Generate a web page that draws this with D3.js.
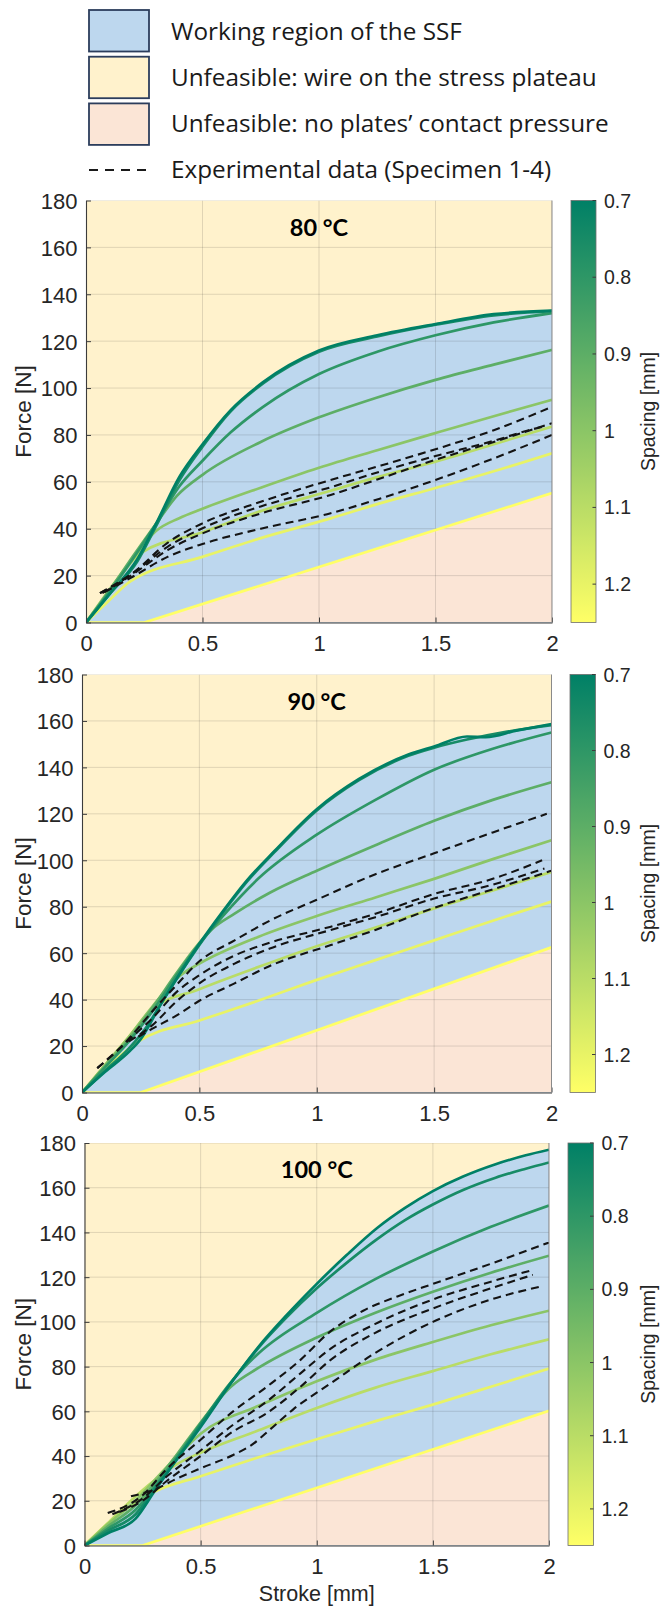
<!DOCTYPE html>
<html>
<head>
<meta charset="utf-8">
<script src="https://cdn.jsdelivr.net/npm/d3@7"></script>
<style>
  body { margin: 0; background: #ffffff; }
  svg { display: block; }
</style>
</head>
<body>
<svg id="fig" width="661" height="1607"></svg>
<script>
// ---- data ---------------------------------------------------------------
const temperatures = ["80 °C", "90 °C", "100 °C"];
const spacing = [0.7, 0.75, 0.8, 0.9, 1.0, 1.1, 1.2, 1.25];   // mm, one model curve each
const strokeTicks = [0, 0.5, 1, 1.5, 2];
const forceTicks = [0, 20, 40, 60, 80, 100, 120, 140, 160, 180];
const spacingTicks = [0.7, 0.8, 0.9, 1, 1.1, 1.2];
const legendLabels = [
  "Working region of the SSF",
  "Unfeasible: wire on the stress plateau",
  "Unfeasible: no plates\u2019 contact pressure",
  "Experimental data (Specimen 1-4)"
];

// model force–stroke curves [stroke mm, force N], ordered as `spacing`
const model80 = [
  [[0,0],[0.1,12],[0.22,27],[0.3,42],[0.4,62],[0.5,76],[0.62,90.5],[0.76,102.5],[1,116],[1.25,122.5],[1.5,127.3],[1.75,131.5],[2,133]],
  [[0,0],[0.1,12],[0.22,26],[0.3,41],[0.4,60.5],[0.5,75],[0.62,90],[0.76,102],[1,115.5],[1.25,122],[1.5,127],[1.75,131],[2,132.8]],
  [[0,0],[0.1,13],[0.2,27],[0.3,42],[0.4,58],[0.5,69],[0.62,81],[0.76,92],[1,106],[1.25,115.5],[1.5,122.5],[1.75,128],[2,132]],
  [[0,0],[0.1,13.5],[0.2,28],[0.3,42],[0.39,54],[0.5,63],[0.75,77],[1,87.5],[1.25,96],[1.5,103.5],[1.75,110],[2,116.3]],
  [[0,0],[0.1,14],[0.2,27],[0.3,39],[0.4,44.5],[0.5,48.5],[0.75,57.5],[1,66],[1.25,73.5],[1.5,80.8],[1.75,88],[2,95]],
  [[0,0],[0.1,13],[0.233,29.5],[0.5,38.5],[0.75,47.5],[1.05,56.2],[1.25,62],[1.5,68.6],[1.75,76],[2,83.6]],
  [[0,0],[0.1,9.5],[0.19,17.5],[0.5,28],[0.75,36],[1.05,44.4],[1.25,50.5],[1.5,57.4],[1.75,64.5],[2,72.2]],
  [[0,0],[0.25,0],[2,55.2]]
];
const model90 = [
  [[0,0],[0.1,9],[0.2,17.5],[0.25,23],[0.33,37],[0.4,48.5],[0.5,64],[0.6,78],[0.7,91],[0.82,104],[1,122],[1.18,135],[1.39,145.5],[1.5,149],[1.64,153.3],[1.72,153],[1.85,155.8],[2,158.6]],
  [[0,0],[0.1,9.5],[0.2,19],[0.28,29],[0.35,40.5],[0.5,63.5],[0.6,77.5],[0.7,90.5],[0.82,103.5],[1,121.5],[1.18,134.5],[1.39,145],[1.5,148.5],[1.64,152],[1.8,155.2],[2,158.2]],
  [[0,0],[0.1,11],[0.2,22],[0.3,35],[0.4,50],[0.5,64],[0.6,76],[0.75,92],[1,111],[1.25,126],[1.5,139],[1.75,148],[2,155]],
  [[0,0],[0.1,11.5],[0.2,23],[0.3,36.5],[0.4,51],[0.48,62],[0.55,70],[0.65,77],[0.8,86],[1,95.5],[1.25,106.5],[1.5,117],[1.75,126],[2,133.6]],
  [[0,0],[0.1,12],[0.2,24],[0.3,37],[0.42,50.5],[0.5,55.5],[0.75,67],[1,76],[1.25,84],[1.5,92],[1.75,100.5],[2,108.6]],
  [[0,0],[0.1,12],[0.2,24],[0.3,36],[0.5,44.5],[0.75,54],[1,63],[1.25,71],[1.5,79.3],[1.75,87],[2,95]],
  [[0,0],[0.12,12],[0.24,22],[0.5,31],[0.75,39.5],[1,48.5],[1.25,57],[1.5,65.5],[1.75,74],[2,82.2]],
  [[0,0],[0.25,0],[2,62.5]]
];
const model100 = [
  [[0,0],[0.1,5.5],[0.22,12],[0.3,24],[0.36,33],[0.5,53],[0.64,74],[0.75,89],[0.87,103],[1,117],[1.13,130],[1.26,142],[1.38,151],[1.5,158.5],[1.63,165],[1.77,170.5],[1.9,174.5],[2,177]],
  [[0,0],[0.1,6.5],[0.22,14],[0.3,25],[0.4,39],[0.5,54],[0.64,74],[0.75,88.5],[0.87,102],[1,115],[1.13,126.5],[1.26,137],[1.38,145.5],[1.5,152.5],[1.63,159],[1.77,164.5],[1.9,168.5],[2,171.3]],
  [[0,0],[0.1,7.5],[0.22,16],[0.3,26],[0.4,40],[0.5,54.5],[0.63,73],[0.75,86],[1,104],[1.25,119],[1.5,131.5],[1.75,142.5],[2,152]],
  [[0,0],[0.1,8.5],[0.22,18],[0.3,27.5],[0.4,41],[0.5,55],[0.63,71],[0.75,79.5],[1,93],[1.25,104],[1.5,113.5],[1.75,122],[2,129.6]],
  [[0,0],[0.1,9.5],[0.22,20],[0.3,29],[0.4,40],[0.5,50],[0.75,62.5],[1,73.5],[1.25,83],[1.5,91],[1.75,98.5],[2,105]],
  [[0,0],[0.1,10],[0.2,20],[0.3,29],[0.4,36.5],[0.5,41.5],[0.75,51.5],[1,61.5],[1.25,70.5],[1.5,78],[1.75,85.5],[2,92.2]],
  [[0,0],[0.15,14],[0.3,24],[0.5,31],[0.75,39.5],[1,47.5],[1.25,55.5],[1.5,63],[1.75,71],[2,79.1]],
  [[0,0],[0.25,0],[2,60.2]]
];

// measured curves, specimens 1-4
const exp80 = [
  [[0.06,12.5],[0.2,21],[0.35,34],[0.5,42.3],[0.75,51.5],[1.05,60.8],[1.25,66.5],[1.5,73.9],[1.75,82],[2,92]],
  [[0.06,12.5],[0.2,21],[0.35,32.3],[0.5,40.2],[0.75,49.5],[1.05,57.7],[1.25,64],[1.5,71],[1.75,77.5],[1.9,82],[1.96,83.5]],
  [[0.07,12.5],[0.2,20.5],[0.35,30.9],[0.5,38],[0.75,46.5],[1.05,54.4],[1.25,61],[1.5,69.4],[1.75,77],[2,85]],
  [[0.08,13],[0.2,19.5],[0.35,28],[0.5,33.5],[0.75,40],[1.05,46.6],[1.25,52.5],[1.5,60.8],[1.75,70],[2,80]]
];
const exp90 = [
  [[0.065,10.5],[0.15,18],[0.22,25.5],[0.3,35],[0.4,46],[0.5,56.5],[0.65,65.5],[0.8,74],[1,83],[1.25,94],[1.5,103],[1.75,112],[1.98,120]],
  [[0.065,10.5],[0.15,18],[0.22,24.5],[0.3,32],[0.4,43],[0.5,50.5],[0.65,59],[0.8,64.5],[1.06,71.4],[1.25,77],[1.5,85.5],[1.75,92],[1.96,100]],
  [[0.2,22],[0.3,29],[0.4,39],[0.5,47],[0.65,55.5],[0.8,62],[1.06,70],[1.25,75.5],[1.5,83.5],[1.75,89.5],[1.97,96.5]],
  [[0.24,24],[0.3,27.5],[0.4,33],[0.5,39.5],[0.65,47],[0.8,54.5],[1.06,63.5],[1.25,70],[1.5,79.5],[1.75,87.5],[2,95.5]]
];
const exp100 = [
  [[0.1,14.5],[0.25,22.5],[0.35,33.8],[0.5,47.3],[0.64,60],[0.785,71],[0.93,83],[1.05,95],[1.2,105],[1.35,111.5],[1.5,117],[1.75,126],[2,135.5]],
  [[0.12,14],[0.25,21],[0.35,30.5],[0.5,42.5],[0.64,54],[0.785,64.4],[0.93,77],[1.06,88],[1.25,99],[1.5,110],[1.75,118],[1.93,123.2]],
  [[0.15,15],[0.25,20],[0.35,28.5],[0.5,40],[0.64,51],[0.785,59.2],[0.93,71],[1.06,83],[1.25,95],[1.5,106],[1.75,115],[1.93,121]],
  [[0.2,22],[0.3,25],[0.4,30],[0.5,34.5],[0.64,40.5],[0.72,45],[0.8,52],[0.9,61],[1.06,72.5],[1.25,86],[1.5,100],[1.75,110],[1.96,115.7]]
];

const modelSets = [model80, model90, model100];
const expSets = [exp80, exp90, exp100];

// ---- layout & style -----------------------------------------------------
const panels = [
  { left: 86,   right: 552,   top: 200.5, bottom: 622.5,  cbLeft: 571, cbRight: 596 },
  { left: 82,   right: 551.5, top: 674.5, bottom: 1092.5, cbLeft: 570, cbRight: 595.5 },
  { left: 84.5, right: 549,   top: 1143,  bottom: 1545.5, cbLeft: 568, cbRight: 593.5 }
];
const COL = {
  plateau: "#fff2cc",
  working: "#bdd7ee",
  contact: "#fbe5d6",
  box: "#2c3d5c",
  axis: "#3c3c3c",
  text: "#262626"
};
const AXIS_FONT = "'Liberation Sans', Arial, Helvetica, sans-serif";
const TEXT_FONT = "'Open Sans', Lato, sans-serif";
const TITLE_FONT = "Lato, 'Open Sans', sans-serif";

// MATLAB "summer" colormap
const summer = t => d3.rgb(255 * t, 127.5 + 127.5 * t, 102);
const spacingDomain = [0.7, 1.25];
const spacingT = d3.scaleLinear().domain(spacingDomain).range([0, 1]).clamp(true);

const svg = d3.select("#fig");
const defs = svg.append("defs");

// colorbar gradient
const grad = defs.append("linearGradient")
  .attr("id", "summerGrad").attr("x1", 0).attr("x2", 0).attr("y1", 0).attr("y2", 1);
d3.range(0, 1.0001, 0.05).forEach(t => {
  grad.append("stop").attr("offset", t).attr("stop-color", summer(t));
});

// ---- legend ---------------------------------------------------------------
const legend = svg.append("g").attr("class", "legend");
const legendFills = [COL.working, COL.plateau, COL.contact];
legendFills.forEach((fill, i) => {
  legend.append("rect")
    .attr("x", 89).attr("y", 10 + i * 46.7)
    .attr("width", 60).attr("height", 41.5)
    .attr("fill", fill).attr("stroke", COL.box).attr("stroke-width", 1.8);
});
legend.append("line")
  .attr("x1", 89).attr("x2", 150).attr("y1", 170).attr("y2", 170)
  .attr("stroke", "#1a1a1a").attr("stroke-width", 2.2).attr("stroke-dasharray", "9,7");
legendLabels.forEach((label, i) => {
  legend.append("text")
    .attr("x", 171).attr("y", 39.5 + i * 46.3)
    .attr("font-family", TEXT_FONT).attr("font-size", 24.3)
    .attr("fill", "#1a1a1a").text(label);
});

// ---- panels ---------------------------------------------------------------
panels.forEach((p, k) => {
  const x = d3.scaleLinear().domain([0, 2]).range([p.left, p.right]);
  const y = d3.scaleLinear().domain([0, 180]).range([p.bottom, p.top]);
  const g = svg.append("g").attr("class", "panel");

  const clipId = "clip" + k;
  defs.append("clipPath").attr("id", clipId).append("rect")
    .attr("x", p.left).attr("y", p.top)
    .attr("width", p.right - p.left).attr("height", p.bottom - p.top);

  const plot = g.append("g").attr("clip-path", `url(#${clipId})`);
  const models = modelSets[k];
  const lastIdx = models.length - 1;

  const curveFor = i => (i === lastIdx ? d3.curveLinear : d3.curveMonotoneX);
  const lineGen = i => d3.line().x(d => x(d[0])).y(d => y(d[1])).curve(curveFor(i));
  const areaGen = i => d3.area().x(d => x(d[0])).y0(y(0)).y1(d => y(d[1])).curve(curveFor(i));

  // plateau background
  plot.append("rect")
    .attr("x", p.left).attr("y", p.top)
    .attr("width", p.right - p.left).attr("height", p.bottom - p.top)
    .attr("fill", COL.plateau);

  // working region: union of the areas under every model curve
  models.forEach((c, i) => {
    plot.append("path").attr("d", areaGen(i)(c)).attr("fill", COL.working);
  });
  // no contact pressure: below the widest-spacing curve
  plot.append("path").attr("d", areaGen(lastIdx)(models[lastIdx])).attr("fill", COL.contact);

  // grid
  const grid = plot.append("g").attr("stroke", "#262626").attr("stroke-opacity", 0.14).attr("stroke-width", 1);
  forceTicks.forEach(v => grid.append("line")
    .attr("x1", p.left).attr("x2", p.right).attr("y1", y(v)).attr("y2", y(v)));
  strokeTicks.forEach(v => grid.append("line")
    .attr("x1", x(v)).attr("x2", x(v)).attr("y1", p.top).attr("y2", p.bottom));

  // model curves, widest spacing first so the dark ones sit on top
  d3.range(lastIdx, -1, -1).forEach(i => {
    plot.append("path")
      .attr("d", lineGen(i)(models[i]))
      .attr("fill", "none")
      .attr("stroke", summer(spacingT(spacing[i])))
      .attr("stroke-width", 2.7)
      .attr("stroke-linejoin", "round");
  });

  // experimental curves
  const expLine = d3.line().x(d => x(d[0])).y(d => y(d[1])).curve(d3.curveMonotoneX);
  expSets[k].forEach(c => {
    plot.append("path")
      .attr("d", expLine(c))
      .attr("fill", "none")
      .attr("stroke", "#141414")
      .attr("stroke-width", 2.1)
      .attr("stroke-dasharray", "8,5");
  });

  // axes
  const axX = g.append("g").attr("transform", `translate(0,${p.bottom})`)
    .call(d3.axisBottom(x).tickValues(strokeTicks).tickSizeInner(-5).tickSizeOuter(0)
      .tickPadding(13).tickFormat(d3.format("~g")));
  const axY = g.append("g").attr("transform", `translate(${p.left},0)`)
    .call(d3.axisLeft(y).tickValues(forceTicks).tickSizeInner(-5).tickSizeOuter(0)
      .tickPadding(8.5));
  [axX, axY].forEach(a => {
    a.select(".domain").attr("stroke", COL.axis).attr("stroke-width", 1.1);
    a.selectAll(".tick line").attr("stroke", COL.axis).attr("stroke-width", 1);
    a.selectAll(".tick text").attr("font-family", AXIS_FONT).attr("font-size", 22)
      .attr("fill", COL.text);
  });
  axY.selectAll(".tick text").attr("dy", "0.36em");
  axX.selectAll(".tick text").attr("dy", "0.71em");

  // right edge of the box
  g.append("line")
    .attr("x1", p.right).attr("x2", p.right).attr("y1", p.top).attr("y2", p.bottom)
    .attr("stroke", "#8a8a8a").attr("stroke-width", 1);

  // y label
  g.append("text")
    .attr("transform", `translate(31,${(p.top + p.bottom) / 2}) rotate(-90)`)
    .attr("text-anchor", "middle")
    .attr("font-family", AXIS_FONT).attr("font-size", 22.5).attr("fill", COL.text)
    .text("Force [N]");

  // temperature title
  g.append("text")
    .attr("x", (p.left + p.right) / 2).attr("y", p.top + 35)
    .attr("text-anchor", "middle")
    .attr("font-family", TITLE_FONT).attr("font-weight", 700).attr("font-size", 23.5)
    .attr("fill", "#000").text(temperatures[k]);

  // colorbar
  const cb = d3.scaleLinear().domain(spacingDomain).range([p.top, p.bottom]);
  const cbG = g.append("g");
  cbG.append("rect")
    .attr("x", p.cbLeft).attr("y", p.top)
    .attr("width", p.cbRight - p.cbLeft).attr("height", p.bottom - p.top)
    .attr("fill", "url(#summerGrad)").attr("stroke", "#6e6e6e").attr("stroke-width", 0.8);
  spacingTicks.forEach(v => {
    cbG.append("line")
      .attr("x1", p.cbRight - 3.5).attr("x2", p.cbRight)
      .attr("y1", cb(v)).attr("y2", cb(v))
      .attr("stroke", "#3c3c3c").attr("stroke-width", 1);
    cbG.append("text")
      .attr("x", p.cbRight + 8).attr("y", cb(v)).attr("dy", "0.36em")
      .attr("font-family", AXIS_FONT).attr("font-size", 19.5).attr("fill", COL.text)
      .text(d3.format("~g")(v));
  });
  cbG.append("text")
    .attr("transform", `translate(654.5,${(p.top + p.bottom) / 2}) rotate(-90)`)
    .attr("text-anchor", "middle")
    .attr("font-family", AXIS_FONT).attr("font-size", 19.5).attr("fill", COL.text)
    .text("Spacing [mm]");
});

// x label under the last panel
svg.append("text")
  .attr("x", (panels[2].left + panels[2].right) / 2).attr("y", 1600.5)
  .attr("text-anchor", "middle")
  .attr("font-family", AXIS_FONT).attr("font-size", 21.5).attr("fill", COL.text)
  .text("Stroke [mm]");
</script>
</body>
</html>
